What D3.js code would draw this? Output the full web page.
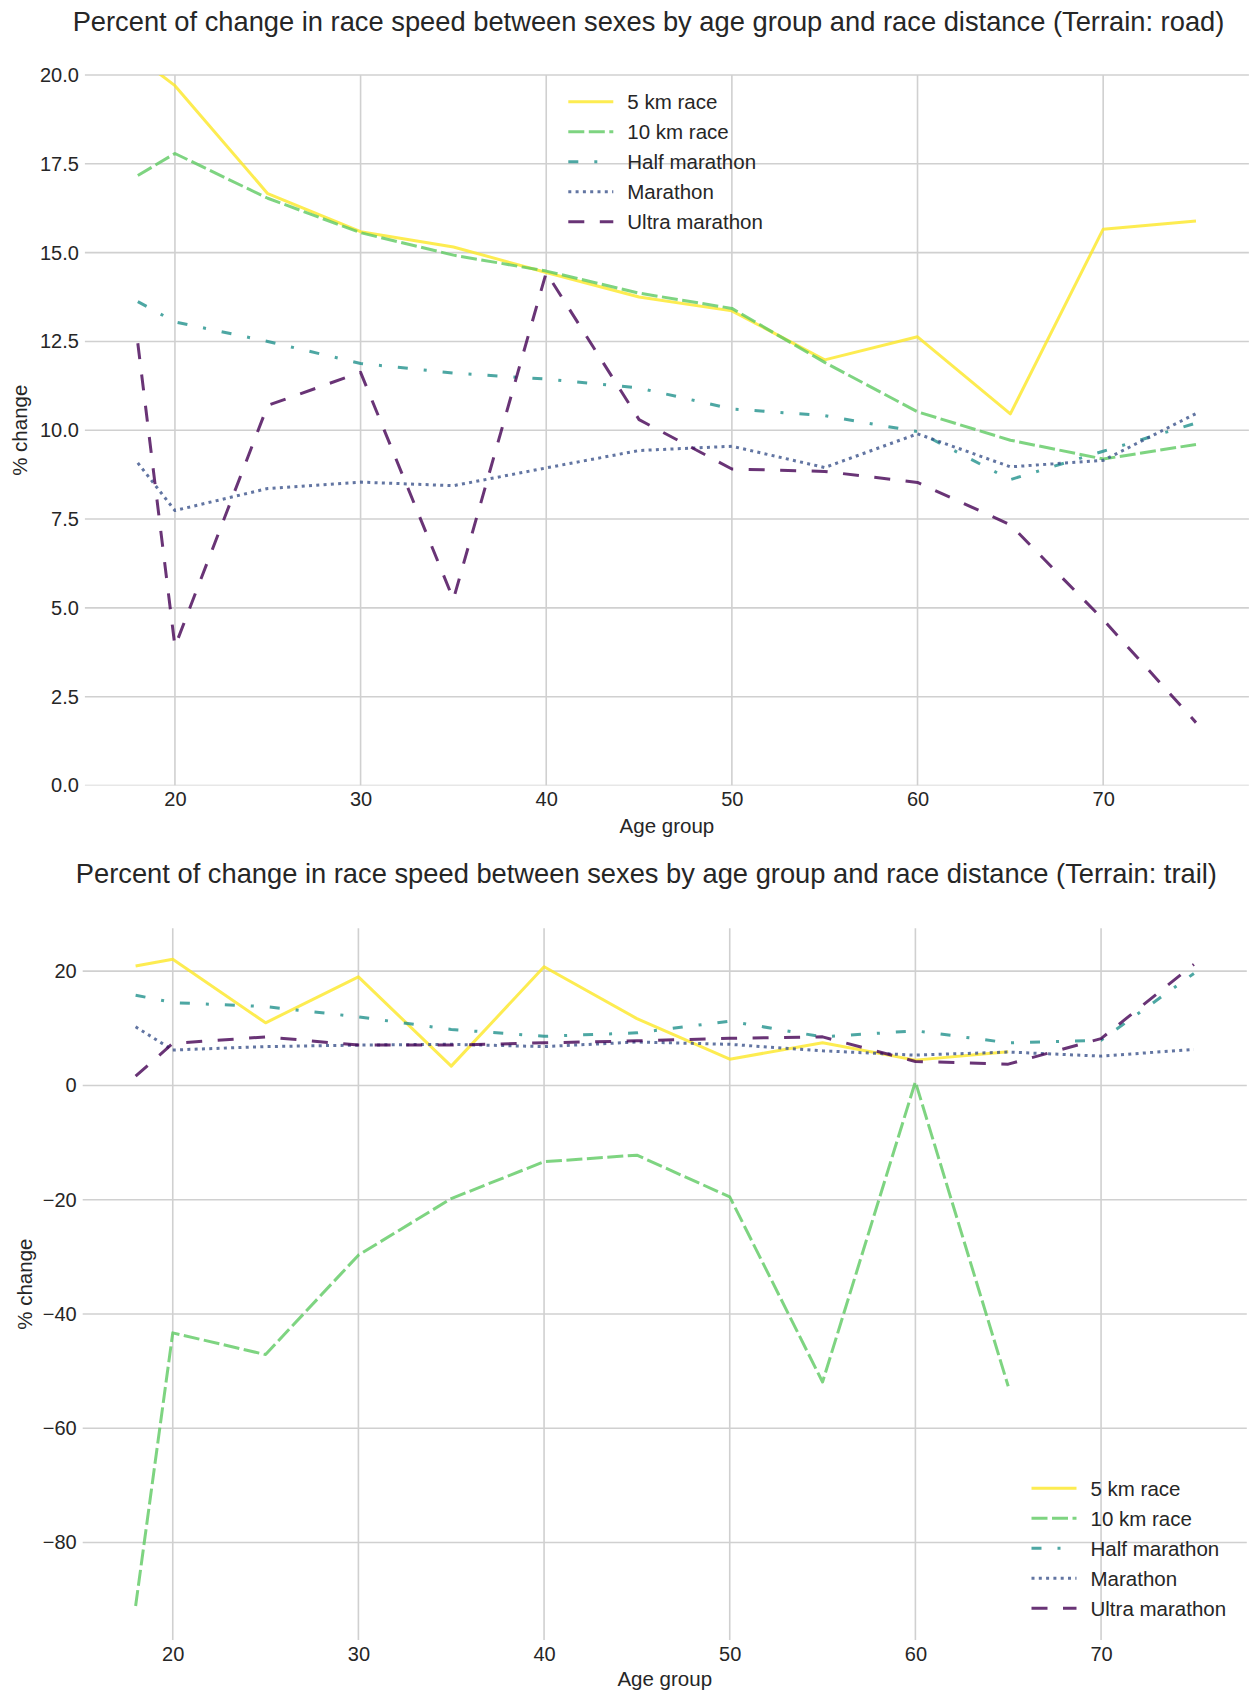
<!DOCTYPE html>
<html>
<head>
<meta charset="utf-8">
<script src="https://cdn.jsdelivr.net/npm/d3@7"></script>
<style>
  html, body { margin: 0; padding: 0; background: #ffffff; }
  svg { display: block; font-family: "Liberation Sans", Arial, sans-serif; }
</style>
</head>
<body>
<svg id="chart" width="1250" height="1693"></svg>
<script>
// ---------------- data ----------------
const ages = [18, 20, 25, 30, 35, 40, 45, 50, 55, 60, 65, 70, 75];
const seriesNames = ["5 km race", "10 km race", "Half marathon", "Marathon", "Ultra marathon"];

// Terrain: road
const road5k       = [20.5, 19.70, 16.66, 15.59, 15.16, 14.44, 13.75, 13.36, 11.98, 12.63, 10.46, 15.66, 15.89];
const road10k      = [17.17, 17.79, 16.53, 15.56, 14.93, 14.48, 13.86, 13.43, 11.91, 10.52, 9.72, 9.19, 9.60];
const roadHalf     = [13.62, 13.05, 12.50, 11.88, 11.61, 11.44, 11.19, 10.60, 10.41, 9.96, 8.61, 9.41, 10.20];
const roadMarathon = [9.08, 7.74, 8.36, 8.54, 8.44, 8.94, 9.43, 9.55, 8.95, 9.90, 8.97, 9.15, 10.47];
const roadUltra    = [12.45, 3.91, 10.70, 11.63, 5.24, 14.44, 10.30, 8.91, 8.84, 8.53, 7.34, 4.67, 1.77];

// Terrain: trail
const trail5k       = [20.9, 22.1, 10.96, 19.0, 3.38, 20.76, 11.7, 4.6, 7.46, 4.43, 5.9, null, null];
const trail10k      = [-91.1, -43.3, -47.1, -29.7, -19.8, -13.35, -12.2, -19.5, -51.9, 0.64, -52.65, null, null];
const trailHalf     = [15.8, 14.5, 13.8, 12.0, 9.8, 8.6, 9.2, 11.25, 8.5, 9.56, 7.46, 7.9, 19.6];
const trailMarathon = [10.26, 6.2, 6.8, 7.06, 7.2, 6.8, 7.6, 7.2, 6.06, 5.3, 5.85, 5.13, 6.3];
const trailUltra    = [1.63, 7.35, 8.5, 7.06, 7.06, 7.46, 7.8, 8.25, 8.5, 4.2, 3.73, 8.2, 21.2];

// ticks & axis ranges
const xTicks = [20, 30, 40, 50, 60, 70];
const xDomain = [15.15, 77.85];
const roadYTicks = [0, 2.5, 5, 7.5, 10, 12.5, 15, 17.5, 20];
const roadYDomain = [0, 20];
const trailYTicks = [-80, -60, -40, -20, 0, 20];
const trailYDomain = [-97.05, 27.5];

// ---------------- styles ----------------
const colors = ["#fde725", "#5ec962", "#21918c", "#3b528b", "#440154"];
const dashes = ["none", "16,4.5", "10,16,3,16", "3,4.3", "16,15.5"];
const LW = 3.0;
const TEXT = "#262626";
const GRID = "#d0d0d0";

const svg = d3.select("#chart");
const defs = svg.append("defs");

function panel(cfg) {
  const x = d3.scaleLinear().domain(xDomain).range([cfg.left, cfg.right]);
  const y = d3.scaleLinear().domain(cfg.yDomain).range([cfg.bottom, cfg.top]);

  defs.append("clipPath").attr("id", cfg.id + "-clip")
    .append("rect").attr("x", cfg.left).attr("y", cfg.top)
    .attr("width", cfg.right - cfg.left).attr("height", cfg.bottom - cfg.top);
  defs.append("clipPath").attr("id", cfg.id + "-gclip")
    .append("rect").attr("x", cfg.left - 1).attr("y", cfg.top - 1)
    .attr("width", cfg.right - cfg.left + 2).attr("height", cfg.bottom - cfg.top + 1);

  const g = svg.append("g");

  // gridlines
  const grid = g.append("g").attr("clip-path", `url(#${cfg.id}-gclip)`)
    .attr("stroke", GRID).attr("stroke-width", 1.6);
  grid.selectAll("line.vx").data(xTicks).join("line").attr("class", "vx")
    .attr("x1", d => x(d)).attr("x2", d => x(d))
    .attr("y1", cfg.top).attr("y2", cfg.bottom);
  grid.selectAll("line.hy").data(cfg.yTicks).join("line").attr("class", "hy")
    .attr("x1", cfg.left).attr("x2", cfg.right)
    .attr("y1", d => y(d)).attr("y2", d => y(d));

  // axes (labels only)
  const gx = g.append("g").attr("transform", `translate(0,${cfg.bottom})`)
    .call(d3.axisBottom(x).tickValues(xTicks).tickFormat(d3.format("d"))
      .tickSize(0).tickPadding(6.5));
  const gy = g.append("g").attr("transform", `translate(${cfg.left},0)`)
    .call(d3.axisLeft(y).tickValues(cfg.yTicks).tickFormat(cfg.yFormat)
      .tickSize(0).tickPadding(6));

  [gx, gy].forEach(a => {
    a.select(".domain").remove();
    a.selectAll(".tick line").remove();
    a.selectAll(".tick text").attr("fill", TEXT).attr("font-size", 20)
      .attr("font-family", '"Liberation Sans", Arial, sans-serif');
  });

  // lines
  const line = d3.line().defined(d => d.v !== null).x(d => x(d.a)).y(d => y(d.v));
  const lg = g.append("g").attr("clip-path", `url(#${cfg.id}-clip)`);
  cfg.series.forEach((vals, i) => {
    const pts = ages.map((a, k) => ({ a: a, v: vals[k] }));
    lg.append("path").datum(pts).attr("d", line)
      .attr("fill", "none").attr("stroke", colors[i]).attr("stroke-opacity", 0.8)
      .attr("stroke-width", LW).attr("stroke-linejoin", "round")
      .attr("stroke-linecap", "butt")
      .attr("stroke-dasharray", dashes[i]);
  });

  // title
  svg.append("text").attr("x", (cfg.left + cfg.right) / 2 - 18.4).attr("y", cfg.titleY)
    .attr("text-anchor", "middle").attr("font-size", 27.3).attr("fill", TEXT)
    .text(cfg.title);
  // x label
  svg.append("text").attr("x", (cfg.left + cfg.right) / 2).attr("y", cfg.xLabelY)
    .attr("text-anchor", "middle").attr("dominant-baseline", "central")
    .attr("font-size", 20.5).attr("fill", TEXT).text("Age group");
  // y label
  svg.append("text")
    .attr("transform", `translate(${cfg.yLabelX},${(cfg.top + cfg.bottom) / 2}) rotate(-90)`)
    .attr("text-anchor", "middle").attr("dominant-baseline", "central")
    .attr("font-size", 20.5).attr("fill", TEXT).text("% change");

  // legend
  const leg = svg.append("g");
  seriesNames.forEach((name, i) => {
    const yy = cfg.legY + i * 30;
    leg.append("line").attr("x1", cfg.legX).attr("x2", cfg.legX + 45)
      .attr("y1", yy).attr("y2", yy)
      .attr("stroke", colors[i]).attr("stroke-opacity", 0.8)
      .attr("stroke-width", LW).attr("stroke-dasharray", dashes[i]);
    leg.append("text").attr("x", cfg.legX + 59).attr("y", yy)
      .attr("dominant-baseline", "central").attr("font-size", 20.5)
      .attr("fill", TEXT).text(name);
  });
}

panel({
  id: "road",
  left: 84.9, right: 1248.9, top: 75, bottom: 785.5,
  yDomain: roadYDomain, yTicks: roadYTicks, yFormat: d3.format(".1f"),
  series: [road5k, road10k, roadHalf, roadMarathon, roadUltra],
  title: "Percent of change in race speed between sexes by age group and race distance (Terrain: road)",
  titleY: 30.7, xLabelY: 825, yLabelX: 19,
  legX: 568.3, legY: 101.7
});

panel({
  id: "trail",
  left: 82.7, right: 1246.8, top: 928.3, bottom: 1640,
  yDomain: trailYDomain, yTicks: trailYTicks, yFormat: d3.format("d"),
  series: [trail5k, trail10k, trailHalf, trailMarathon, trailUltra],
  title: "Percent of change in race speed between sexes by age group and race distance (Terrain: trail)",
  titleY: 883.3, xLabelY: 1678, yLabelX: 24.5,
  legX: 1031.5, legY: 1488.3
});
</script>
</body>
</html>
